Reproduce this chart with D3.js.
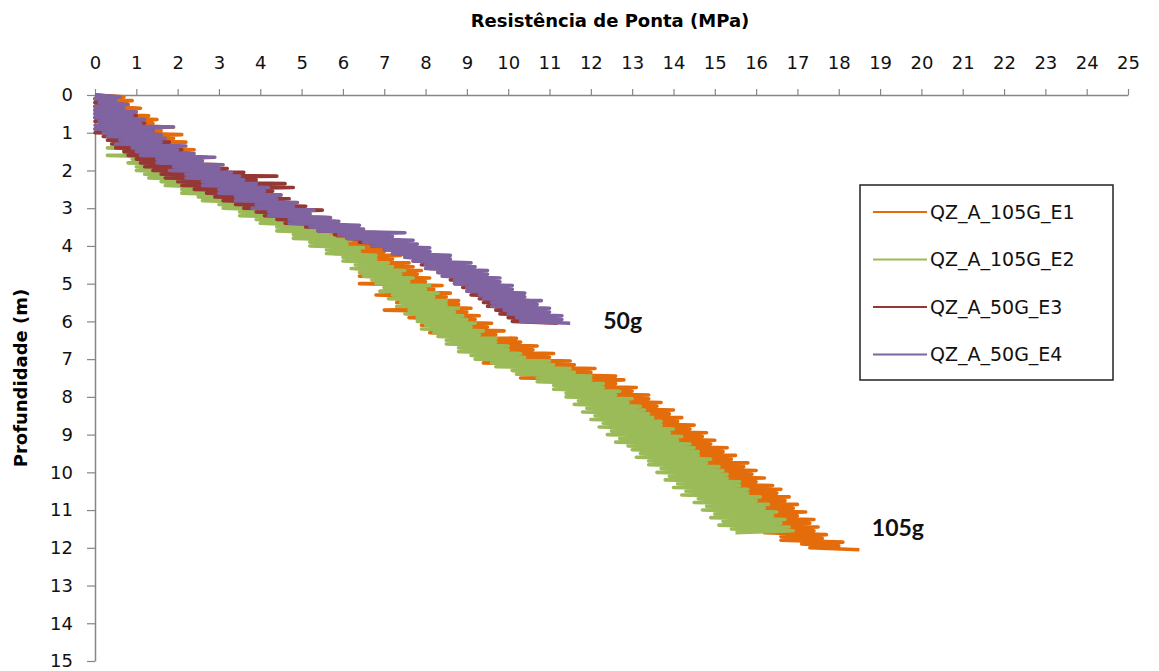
<!DOCTYPE html>
<html>
<head>
<meta charset="utf-8">
<script src="https://cdn.jsdelivr.net/npm/d3@7"></script>
<style>
  body { margin: 0; background: #fff; }
  text { font-family: "DejaVu Sans", Verdana, sans-serif; }
</style>
</head>
<body>
<script>
// readings every 5 cm of depth, q in MPa
const step = 0.05;

const seriesNames = ['QZ_A_105G_E1', 'QZ_A_105G_E2', 'QZ_A_50G_E3', 'QZ_A_50G_E4'];
const seriesColors = ['#E46C0A', '#9BBB59', '#953735', '#8064A2'];

const qE1 = [
  0.0,0.7,0.1,0.9,0.0,0.8,0.3,1.1,0.2,1.0,
  0.4,1.3,0.3,1.5,0.5,1.4,0.4,1.9,0.7,1.6,
  0.6,2.1,0.9,1.9,0.8,2.2,1.1,2.0,1.0,2.4,
  1.3,2.3,1.2,2.7,1.5,2.6,1.4,3.0,1.7,2.9,
  1.6,3.2,1.9,3.1,1.9,3.6,2.3,3.5,2.2,3.9,
  2.6,3.9,2.6,4.3,3.1,4.2,3.1,4.7,3.5,4.6,
  3.5,5.1,3.9,5.0,4.0,5.5,4.4,5.4,4.4,5.9,
  4.8,5.9,4.8,6.4,5.2,6.3,5.3,6.9,5.7,6.8,
  5.6,7.2,6.0,7.0,5.8,7.4,6.2,7.2,6.1,7.6,
  6.5,7.7,6.3,7.9,6.6,7.8,6.4,8.1,6.8,8.0,
  6.4,8.4,7.0,8.2,6.9,8.6,6.8,8.5,7.3,8.8,
  7.3,8.8,7.5,9.1,7.0,9.0,7.7,9.3,7.6,9.2,
  8.0,9.6,7.9,9.5,8.3,9.9,8.1,9.7,8.5,10.2,
  8.6,10.3,9.0,10.7,8.9,10.6,9.4,11.1,9.3,11.0,
  9.8,11.5,9.4,11.6,10.3,12.1,10.1,12.0,10.9,12.6,
  10.3,12.8,11.3,12.6,11.2,13.1,11.7,13.0,11.5,13.4,
  12.0,13.4,11.8,13.7,12.2,13.6,12.1,14.0,12.5,13.9,
  12.4,14.2,12.7,14.1,12.6,14.5,13.0,14.4,12.9,14.8,
  13.2,14.7,13.1,15.0,13.5,14.9,13.4,15.3,13.7,15.2,
  13.6,15.5,13.9,15.4,14.1,15.8,14.0,15.7,14.3,16.0,
  14.2,15.9,14.5,16.2,14.4,16.0,14.8,16.4,14.7,16.6,
  15.0,16.5,14.8,16.8,15.2,16.7,15.1,17.0,15.4,16.9,
  15.3,17.2,15.6,17.0,15.6,17.4,15.9,17.3,15.8,17.5,
  16.1,17.4,16.2,17.7,16.6,17.6,16.6,18.1,17.1,18.0,
  17.3,18.5
];

const qE2 = [
  0.0,0.4,0.0,0.3,0.1,0.5,0.0,0.6,0.0,0.7,
  0.1,0.8,0.0,0.7,0.2,1.0,0.1,0.9,0.3,1.2,
  0.3,1.3,0.5,1.2,0.4,1.5,0.6,1.4,0.3,1.7,
  0.7,1.6,0.3,1.9,0.9,1.8,0.8,2.1,1.0,2.0,
  1.0,2.3,1.2,2.2,1.3,2.6,1.6,2.5,1.7,2.9,
  2.1,3.1,2.1,3.4,2.5,3.3,2.6,3.8,3.0,3.7,
  3.1,4.4,3.5,4.3,3.5,4.8,3.9,4.7,4.0,5.2,
  4.4,5.4,4.4,5.7,4.8,5.8,4.8,6.2,5.2,6.1,
  5.2,6.5,5.6,6.4,5.6,6.8,6.0,6.8,6.0,7.1,
  6.3,7.2,6.2,7.5,6.4,7.4,6.5,7.7,6.7,7.6,
  6.8,8.1,7.0,8.0,6.9,8.3,7.2,8.2,7.1,8.5,
  7.4,8.5,7.3,8.8,7.6,8.7,7.5,8.9,7.8,9.0,
  7.8,9.2,8.0,9.1,7.9,9.4,8.2,9.3,8.3,9.7,
  8.5,9.7,8.5,10.0,8.8,10.0,8.8,10.3,9.1,10.4,
  9.2,11.0,9.6,11.1,9.7,11.5,10.1,11.6,10.2,12.0,
  10.7,12.0,10.7,12.3,11.1,12.3,11.1,12.7,11.4,12.6,
  11.4,13.0,11.7,12.9,11.6,13.2,11.9,13.3,11.8,13.4,
  12.1,13.5,12.0,13.7,12.3,13.7,12.2,14.0,12.5,13.9,
  12.4,14.2,12.7,14.1,12.6,14.4,12.9,14.5,13.0,14.6,
  13.2,14.6,13.1,14.9,13.4,14.8,13.4,15.1,13.7,15.2,
  13.6,15.3,13.9,15.3,13.8,15.6,14.1,15.6,14.0,15.8,
  14.3,15.8,14.2,16.1,14.6,16.0,14.5,16.3,14.8,16.2,
  14.7,16.5,15.0,16.4,14.9,16.7,15.2,16.6,15.1,16.8,
  15.4,16.9,15.5
];

const qE3 = [
  0.0,0.5,0.0,0.4,0.0,0.7,0.0,0.6,0.0,0.9,
  0.0,1.0,0.0,0.8,0.0,1.2,0.1,1.1,0.0,1.4,
  0.0,1.5,0.2,1.4,0.3,1.8,0.4,1.7,0.5,2.1,
  0.7,2.2,0.8,2.6,1.0,2.4,1.1,2.9,1.2,3.2,
  1.4,3.6,1.6,4.4,1.7,3.9,2.0,4.6,2.1,4.8,
  2.4,4.3,2.7,4.5,2.9,4.7,3.1,4.6,3.4,5.1,
  3.6,5.5,3.9,5.2,4.1,5.6,4.4,5.8,4.6,6.1,
  5.1,6.4,5.4,6.9,5.8,7.0,6.1,7.3,6.4,7.5,
  6.7,7.9,7.0,8.1,7.2,8.3,7.5,8.5,7.7,8.8,
  7.9,9.0,8.1,9.1,8.3,9.3,8.5,9.5,8.6,9.7,
  8.7,9.8,8.9,10.0,9.0,10.1,9.1,10.3,9.3,10.5,
  9.4,10.6,9.5,10.7,9.7,10.9,9.8,11.0,10.0,11.2,
  10.1,11.2
];

const qE4 = [
  0.0,0.6,0.0,0.5,0.1,0.8,0.0,0.7,0.0,1.0,
  0.0,0.9,0.0,1.2,0.1,1.1,0.0,1.9,0.0,1.4,
  0.2,1.6,0.3,1.7,0.6,1.6,0.5,2.2,0.9,2.0,
  1.0,2.4,1.1,2.9,1.5,2.6,1.5,3.1,1.9,3.0,
  1.8,3.3,2.2,3.5,2.2,3.6,2.6,3.9,2.6,4.2,
  3.0,4.1,3.0,4.5,3.4,4.4,3.4,4.9,3.9,4.8,
  3.8,5.3,4.2,5.2,4.2,5.7,4.7,5.9,4.7,6.4,
  5.2,6.5,5.4,7.5,5.9,7.2,6.1,7.7,6.5,7.8,
  6.7,8.1,7.0,8.1,7.2,8.6,7.5,8.6,7.7,9.1,
  8.0,9.2,8.0,9.5,8.3,9.5,8.4,9.8,8.7,9.8,
  8.7,10.1,9.0,10.1,9.0,10.4,9.3,10.4,9.4,10.8,
  9.6,10.7,9.6,11.0,9.9,11.0,10.0,11.3,10.2,11.3,
  10.3,11.5
];

const xTicks = d3.range(0, 26);
const yTicks = d3.range(0, 16);

const labels = [
  {text: '50g', q: 12.3, d: 6.2},
  {text: '105g', q: 18.8, d: 11.7}
];

const width = 1159;
const height = 671;
const margin = {left: 95, right: 31, top: 95, bottom: 10};

const svg = d3.select('body').append('svg')
    .attr('width', width)
    .attr('height', height);

const xScale = d3.scaleLinear()
    .domain([0, 25])
    .range([margin.left, width - margin.right]);

const yScale = d3.scaleLinear()
    .domain([0, 15])
    .range([margin.top, height - margin.bottom]);

const xAxis = d3.axisTop(xScale)
    .tickValues(xTicks)
    .tickSize(6)
    .tickSizeOuter(0)
    .tickPadding(20);

const yAxis = d3.axisLeft(yScale)
    .tickValues(yTicks)
    .tickSize(8)
    .tickSizeOuter(0)
    .tickPadding(14);

const xg = svg.append('g')
    .attr('transform', `translate(0, ${margin.top})`)
    .call(xAxis);

const yg = svg.append('g')
    .attr('transform', `translate(${margin.left}, 0)`)
    .call(yAxis);

[xg, yg].forEach(g => {
    g.select('.domain').attr('stroke', '#868686').attr('stroke-width', 1.5);
    g.selectAll('.tick line').attr('stroke', '#868686').attr('stroke-width', 1.2);
    g.selectAll('.tick text')
        .attr('fill', '#111')
        .style('font-size', '18px');
});

// series, first drawn lies at the bottom
const allSeries = [qE1, qE2, qE3, qE4];
const line = d3.line()
    .x(d => xScale(d.q))
    .y(d => yScale(d.d));

allSeries.forEach((arr, i) => {
    const pts = arr.map((q, k) => ({q: q, d: k * step}));
    svg.append('path')
        .datum(pts)
        .attr('fill', 'none')
        .attr('stroke', seriesColors[i])
        .attr('stroke-width', 3.6)
        .attr('stroke-linejoin', 'round')
        .attr('d', line);
});

// titles
svg.append('text')
    .text('Resistência de Ponta (MPa)')
    .attr('x', 610)
    .attr('y', 27)
    .attr('text-anchor', 'middle')
    .style('font-weight', 'bold')
    .style('font-size', '18px');

svg.append('text')
    .text('Profundidade  (m)')
    .attr('transform', 'translate(27, 378) rotate(-90)')
    .attr('text-anchor', 'middle')
    .style('font-weight', 'bold')
    .style('font-size', '18px');

labels.forEach(l => {
    svg.append('text')
        .text(l.text)
        .attr('x', xScale(l.q))
        .attr('y', yScale(l.d))
        .style('font-family', 'Lato, "Open Sans", sans-serif')
        .style('font-weight', 'bold')
        .style('font-size', '23px')
        .attr('fill', '#111');
});

// legend
const legend = svg.append('g')
    .attr('transform', 'translate(860, 185)');

legend.append('rect')
    .attr('width', 253)
    .attr('height', 195)
    .attr('fill', '#fff')
    .attr('stroke', '#222')
    .attr('stroke-width', 1.5);

seriesNames.forEach((name, i) => {
    const yy = 27 + i * 47.5;
    legend.append('line')
        .attr('x1', 13).attr('x2', 67)
        .attr('y1', yy).attr('y2', yy)
        .attr('stroke', seriesColors[i])
        .attr('stroke-width', 2);
    legend.append('text')
        .text(name)
        .attr('x', 70)
        .attr('y', yy)
        .attr('dy', '0.36em')
        .attr('fill', '#111')
        .style('font-size', '19px');
});
</script>
</body>
</html>
